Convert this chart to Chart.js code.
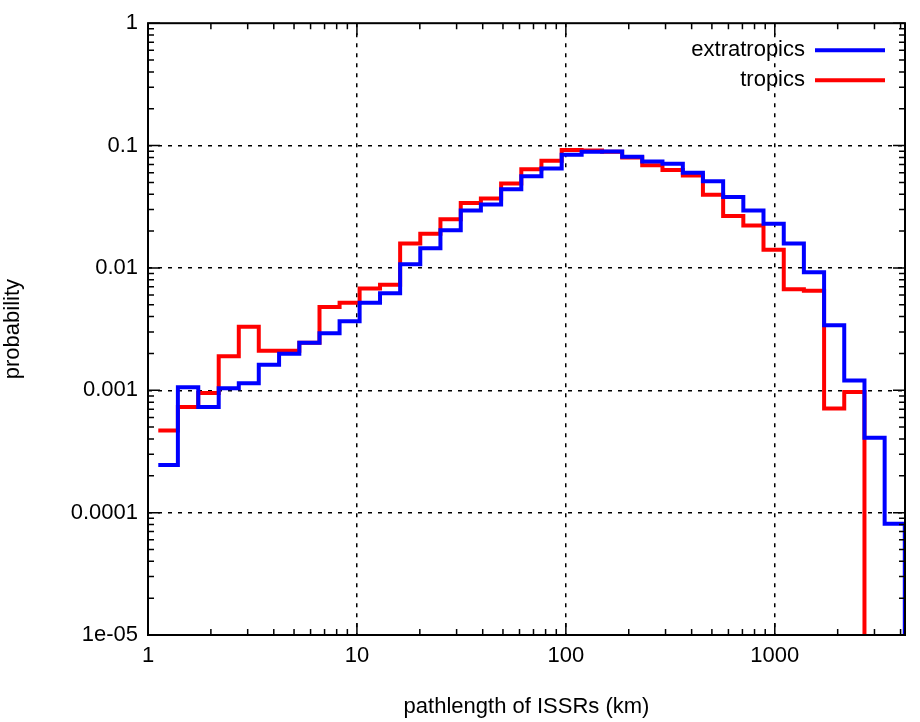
<!DOCTYPE html>
<html>
<head>
<meta charset="utf-8">
<script src="https://cdn.jsdelivr.net/npm/chart.js@4.4.1/dist/chart.umd.min.js"></script>
<style>
  html, body { margin: 0; padding: 0; background: #fff; }
</style>
</head>
<body>
<canvas id="histChart" width="920" height="722"></canvas>
<script>
// bin edges of the log-spaced pathlength histogram (km)
var binEdges = [1.12, 1.39, 1.74, 2.18, 2.72, 3.39, 4.24, 5.30, 6.62, 8.26,
    10.3, 12.9, 16.1, 20.1, 25.1, 31.4, 39.2, 49.0, 61.2, 76.4,
    95.5, 119, 149, 186, 232, 290, 363, 453, 566, 707,
    883, 1104, 1378, 1722, 2150, 2687, 3356, 4190];

var extratropics = [2.45e-4, 1.06e-3, 7.3e-4, 1.04e-3, 1.14e-3, 1.62e-3, 1.99e-3, 2.45e-3, 2.93e-3, 3.66e-3,
    5.2e-3, 6.2e-3, 1.07e-2, 1.45e-2, 2.03e-2, 2.94e-2, 3.3e-2, 4.4e-2, 5.6e-2, 6.5e-2,
    8.4e-2, 8.9e-2, 8.95e-2, 8.1e-2, 7.4e-2, 7.1e-2, 6.0e-2, 5.1e-2, 3.8e-2, 2.94e-2,
    2.3e-2, 1.58e-2, 9.2e-3, 3.4e-3, 1.2e-3, 4.1e-4, 8.1e-5];

var tropics = [4.7e-4, 7.3e-4, 9.5e-4, 1.9e-3, 3.3e-3, 2.1e-3, 2.1e-3, 2.45e-3, 4.8e-3, 5.2e-3,
    6.8e-3, 7.3e-3, 1.58e-2, 1.9e-2, 2.5e-2, 3.4e-2, 3.7e-2, 4.9e-2, 6.4e-2, 7.5e-2,
    9.2e-2, 9.1e-2, 8.9e-2, 8.0e-2, 6.9e-2, 6.3e-2, 5.7e-2, 3.96e-2, 2.66e-2, 2.22e-2,
    1.41e-2, 6.7e-3, 6.5e-3, 7.1e-4, 9.7e-4];

var xTicks = [1, 10, 100, 1000];
var yTicks = [1e-5, 1e-4, 1e-3, 1e-2, 1e-1, 1];
var yLabels = ['1e-05', '0.0001', '0.001', '0.01', '0.1', '1'];
var floorValue = 1e-7; // empty bin, drawn off the bottom of the plot

function stepPoints(values) {
    var pts = [];
    for (var i = 0; i < values.length; i++) pts.push({ x: binEdges[i], y: values[i] });
    pts.push({ x: binEdges[values.length], y: values[values.length - 1] });
    pts.push({ x: binEdges[values.length], y: floorValue });
    return pts;
}

var FONT = 'Liberation Sans, Arial, Helvetica, sans-serif';
Chart.defaults.font.family = FONT;
Chart.defaults.font.size = 22;
Chart.defaults.color = '#000';

// frame, inward tick marks (major + minor) and the gnuplot style key
var framePlugin = {
    id: 'frame',
    afterDraw: function (chart) {
        var ctx = chart.ctx, a = chart.chartArea;
        var xs = chart.scales.x, ys = chart.scales.y;
        ctx.save();
        ctx.strokeStyle = '#000';
        ctx.lineWidth = 2;
        ctx.strokeRect(a.left, a.top, a.right - a.left, a.bottom - a.top);
        ctx.lineWidth = 1.5;
        ctx.beginPath();
        for (var d = 1; d <= 1000; d *= 10) {
            for (var m = 1; m < 10; m++) {
                var v = d * m;
                if (v > xs.max) break;
                var px = xs.getPixelForValue(v), len = (m === 1) ? 12 : 6;
                ctx.moveTo(px, a.bottom); ctx.lineTo(px, a.bottom - len);
                ctx.moveTo(px, a.top); ctx.lineTo(px, a.top + len);
            }
        }
        for (var e = 1e-5; e < 1.5; e *= 10) {
            for (var k = 1; k < 10; k++) {
                var val = e * k;
                if (val > 1.0001) break;
                var py = ys.getPixelForValue(val), l = (k === 1) ? 12 : 6;
                ctx.moveTo(a.left, py); ctx.lineTo(a.left + l, py);
                ctx.moveTo(a.right, py); ctx.lineTo(a.right - l, py);
            }
        }
        ctx.stroke();

        // key
        ctx.font = '22px ' + FONT;
        ctx.textAlign = 'right';
        ctx.textBaseline = 'middle';
        chart.data.datasets.forEach(function (ds, i) {
            var y = a.top + 27 + i * 30;
            ctx.fillStyle = '#000';
            ctx.fillText(ds.label, a.right - 100, y);
            ctx.strokeStyle = ds.borderColor;
            ctx.lineWidth = 4;
            ctx.beginPath();
            ctx.moveTo(a.right - 90, y); ctx.lineTo(a.right - 20, y);
            ctx.stroke();
        });
        ctx.restore();
    }
};

var histCtx = document.getElementById('histChart');
var histChart = new Chart(histCtx, {
    type: 'line',
    data: {
        datasets: [{
            label: 'extratropics',
            data: stepPoints(extratropics),
            borderColor: '#0000ff',
            borderWidth: 4,
            stepped: 'before',
            pointRadius: 0,
            fill: false
        }, {
            label: 'tropics',
            data: stepPoints(tropics),
            borderColor: '#ff0000',
            borderWidth: 4,
            stepped: 'before',
            pointRadius: 0,
            fill: false
        }]
    },
    options: {
        responsive: false,
        animation: false,
        layout: { padding: { left: 0, right: 15, top: 1, bottom: 0 } },
        plugins: { legend: { display: false }, tooltip: { enabled: false } },
        scales: {
            x: {
                type: 'logarithmic',
                min: 1,
                max: 4200,
                afterBuildTicks: function (s) { s.ticks = xTicks.map(function (v) { return { value: v }; }); },
                afterFit: function (s) { s.height = 87; },
                ticks: {
                    autoSkip: false, maxRotation: 0, padding: 8,
                    callback: function (v) { return String(v); }
                },
                grid: {
                    color: function (c) { return (c.tick && (c.tick.value === 1)) ? 'rgba(0,0,0,0)' : '#000'; },
                    lineWidth: 1.5, tickLength: 0, drawTicks: false
                },
                border: { display: false, dash: [4, 6] },
                title: { display: true, text: 'pathlength of ISSRs (km)', padding: { top: 6, bottom: 2 } }
            },
            y: {
                type: 'logarithmic',
                min: 1e-5,
                max: 1,
                afterBuildTicks: function (s) { s.ticks = yTicks.map(function (v) { return { value: v }; }); },
                afterFit: function (s) { s.width = 148; },
                ticks: {
                    autoSkip: false, padding: 10,
                    callback: function (v, i) { return yLabels[i]; }
                },
                grid: {
                    color: function (c) { return (c.tick && (c.tick.value === 1 || c.tick.value === 1e-5)) ? 'rgba(0,0,0,0)' : '#000'; },
                    lineWidth: 1.5, drawTicks: false
                },
                border: { display: false, dash: [4, 6] },
                title: { display: true, text: 'probability', padding: { top: 0, bottom: 4 } }
            }
        }
    },
    plugins: [framePlugin]
});
</script>
</body>
</html>
